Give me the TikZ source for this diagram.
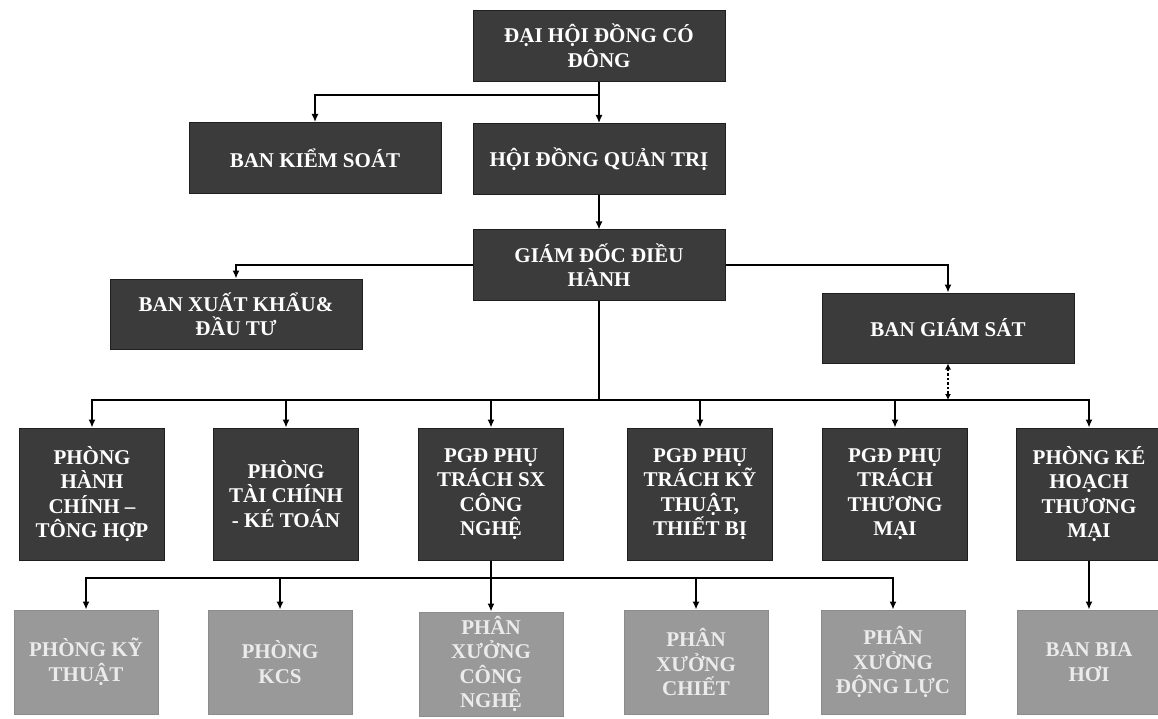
\documentclass[tikz,border=0pt]{standalone}
\usepackage{fontspec}
\setmainfont{Liberation Serif}
\usetikzlibrary{arrows.meta}
\begin{document}
\begin{tikzpicture}[x=1pt,y=-1pt,line width=1.4pt,
  box/.style={draw=black!88,line width=1pt,fill=black!77,text=white,align=center,inner sep=2pt,
    font=\bfseries\fontsize{21}{24.5}\selectfont},
  topbox/.style={box,minimum width=252pt,minimum height=71pt},
  unitbox/.style={box,minimum width=145pt,minimum height=132pt},
  subbox/.style={box,draw=black!45,fill=black!40,text=black!8,minimum width=144pt,minimum height=104pt},
  link/.style={-{Latex[length=8pt,width=7pt]}}]
\useasboundingbox[fill=white] (0,0) rectangle (1158,719);
% upper levels
\node[topbox] (dhdcd) at (599,46) {ĐẠI HỘI ĐỒNG CÓ\\ĐÔNG};
\node[topbox] (bks) at (315,158) {BAN KIỂM SOÁT};
\node[topbox] (hdqt) at (599,159) {HỘI ĐỒNG QUẢN TRỊ};
\node[topbox,minimum height=70pt] (gddh) at (599,265) {GIÁM ĐỐC ĐIỀU\\HÀNH};
\node[topbox,minimum height=70pt] (bxk) at (236,314) {BAN XUẤT KHẨU\&\\ĐẦU TƯ};
\node[topbox,minimum height=70pt] (bgs) at (948,328) {BAN GIÁM SÁT};
% departments
\node[unitbox] (phc) at (92,494) {PHÒNG\\HÀNH\\CHÍNH –\\TÔNG HỢP};
\node[unitbox] (ptc) at (286,494) {PHÒNG\\TÀI CHÍNH\\- KÉ TOÁN};
\node[unitbox] (pgdsx) at (491,494) {PGĐ PHỤ\\TRÁCH SX\\CÔNG\\NGHỆ};
\node[unitbox] (pgdkt) at (700,494) {PGĐ PHỤ\\TRÁCH KỸ\\THUẬT,\\THIẾT BỊ};
\node[unitbox] (pgdtm) at (895,494) {PGĐ PHỤ\\TRÁCH\\THƯƠNG\\MẠI};
\node[unitbox] (pkh) at (1089,494) {PHÒNG KÉ\\HOẠCH\\THƯƠNG\\MẠI};
% workshops
\node[subbox] (pkt) at (86,662) {PHÒNG KỸ\\THUẬT};
\node[subbox] (kcs) at (280,662) {PHÒNG\\KCS};
\node[subbox] (pxcn) at (491,664) {PHÂN\\XƯỞNG\\CÔNG\\NGHỆ};
\node[subbox] (pxc) at (696,662) {PHÂN\\XƯỞNG\\CHIẾT};
\node[subbox] (pxdl) at (893,662) {PHÂN\\XƯỞNG\\ĐỘNG LỰC};
\node[subbox] (bbh) at (1089,662) {BAN BIA\\HƠI};
% connectors
\coordinate (j1) at (599,95);
\draw (dhdcd) -- (j1);
\draw[link] (j1) -| (bks);
\draw[link] (j1) -- (hdqt);
\draw[link] (hdqt) -- (gddh);
\draw[link] (gddh.west) -| (bxk);
\draw[link] (gddh.east) -| (bgs);
\coordinate (j2) at (599,400);
\draw (gddh) -- (j2);
\foreach \n in {phc,ptc,pgdsx,pgdkt,pgdtm,pkh}
  \draw[link] (j2) -| (\n);
\draw[{Latex[length=6pt,width=6pt]}-{Latex[length=6pt,width=6pt]},line width=1.1pt,dash pattern=on 2.5pt off 2pt] (bgs) -- (bgs |- j2);
\coordinate (j3) at (491,578);
\draw (pgdsx) -- (j3);
\foreach \n in {pkt,kcs,pxcn,pxc,pxdl}
  \draw[link] (j3) -| (\n);
\draw[link] (pkh) -- (bbh);
\end{tikzpicture}
\end{document}
